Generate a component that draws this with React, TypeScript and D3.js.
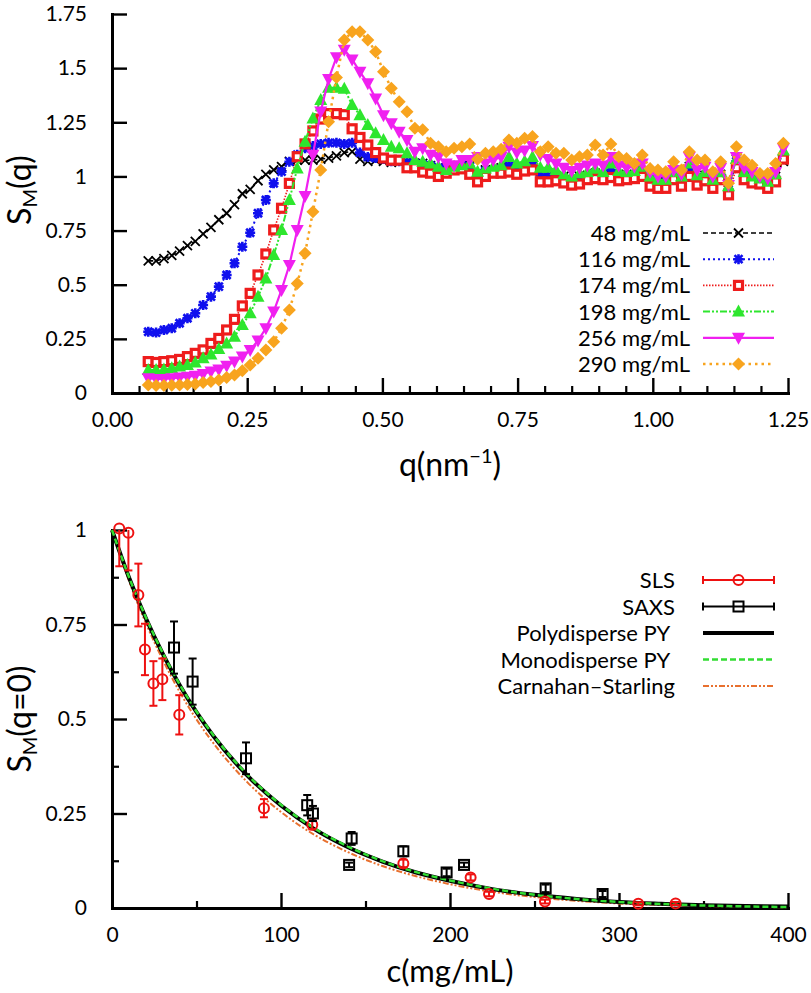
import * as d3 from 'd3';
import React, { useEffect, useRef } from 'react';

const FONT = "Lato, 'Open Sans', 'DejaVu Sans', sans-serif";

// ---- top panel: S_M(q) against q ----
const qGrid = [
  0.067, 0.0815, 0.096, 0.1105, 0.125, 0.1395, 0.154, 0.1685, 0.183, 0.1975,
  0.212, 0.2265, 0.241, 0.2555, 0.27, 0.2845, 0.299, 0.3135, 0.328, 0.3425,
  0.357, 0.3715, 0.386, 0.4005, 0.415, 0.4295, 0.444, 0.4585, 0.473, 0.4875,
  0.502, 0.5165, 0.531, 0.5455, 0.56, 0.5745, 0.589, 0.6035, 0.618, 0.6325,
  0.647, 0.6615, 0.676, 0.6905, 0.705, 0.7195, 0.734, 0.7485, 0.763, 0.7775,
  0.792, 0.8065, 0.821, 0.8355, 0.85, 0.8645, 0.879, 0.8935, 0.908, 0.9225,
  0.937, 0.9515, 0.966, 0.9805, 0.995, 1.0095, 1.024, 1.0385, 1.053, 1.0675,
  1.082, 1.0965, 1.111, 1.1255, 1.14, 1.1545, 1.169, 1.1835, 1.198, 1.2125,
  1.227, 1.2415,
];

const sm48 = [
  0.61, 0.61, 0.62, 0.635, 0.655, 0.68, 0.7, 0.735, 0.765, 0.8,
  0.83, 0.87, 0.92, 0.94, 0.98, 1.01, 1.03, 1.045, 1.07, 1.075,
  1.075, 1.075, 1.08, 1.085, 1.095, 1.11, 1.115, 1.08, 1.07, 1.075,
  1.07, 1.065, 1.07, 1.07, 1.06, 1.06, 1.05, 1.04, 1.04, 1.045,
  1.05, 1.05, 1.015, 1.03, 1.02, 1.04, 1.05, 1.035, 1.045, 1.055,
  1.01, 1.005, 1.005, 1.0, 0.985, 1.0, 1.005, 1.015, 1.0, 1.035,
  1.01, 1.0, 1.01, 1.025, 0.99, 0.975, 0.98, 1.03, 0.99, 1.045,
  0.995, 1.005, 0.975, 1.01, 0.95, 1.08, 1.03, 0.99, 0.98, 0.97,
  1.0, 1.07,
];
const sm116 = [
  0.283, 0.279, 0.291, 0.299, 0.322, 0.345, 0.368, 0.406, 0.445, 0.491,
  0.545, 0.599, 0.675, 0.74, 0.83, 0.891, 0.968, 1.022, 1.068, 1.1,
  1.13, 1.14, 1.15, 1.155, 1.155, 1.15, 1.155, 1.11, 1.09, 1.085,
  1.08, 1.07, 1.07, 1.065, 1.06, 1.055, 1.05, 1.04, 1.035, 1.04,
  1.05, 1.045, 1.01, 1.025, 1.02, 1.035, 1.05, 1.03, 1.04, 1.05,
  1.005, 1.0, 0.995, 0.99, 0.98, 0.995, 1.0, 1.01, 1.0, 1.03,
  1.005, 1.0, 1.005, 1.02, 0.985, 0.97, 0.97, 1.0, 0.98, 1.04,
  0.99, 1.0, 0.97, 1.0, 0.94, 1.07, 1.02, 0.985, 0.975, 0.96,
  0.99, 1.09,
];
const sm174 = [
  0.145, 0.141, 0.145, 0.149, 0.155, 0.168, 0.183, 0.199, 0.229, 0.252,
  0.291, 0.34, 0.402, 0.46, 0.545, 0.642, 0.753, 0.853, 0.968, 1.091,
  1.15, 1.21, 1.265, 1.29, 1.29, 1.285, 1.22, 1.18, 1.145, 1.11,
  1.085, 1.075, 1.075, 1.04, 1.04, 1.02, 1.015, 1.0, 1.015, 1.03,
  1.035, 1.01, 0.975, 1.0, 1.015, 1.015, 1.02, 1.01, 1.025, 1.03,
  0.975, 0.975, 0.98, 0.97, 0.96, 0.965, 0.985, 0.99, 0.985, 0.995,
  0.98, 0.985, 0.99, 1.0, 0.955, 0.945, 0.945, 0.985, 0.955, 1.0,
  0.96, 0.98, 0.945, 0.985, 0.915, 1.04, 0.985, 0.97, 0.965, 0.945,
  0.975, 1.08,
];
const sm198 = [
  0.106, 0.106, 0.109, 0.114, 0.122, 0.129, 0.141, 0.16, 0.178, 0.203,
  0.229, 0.26, 0.314, 0.368, 0.445, 0.529, 0.637, 0.753, 0.891, 1.037,
  1.16, 1.268, 1.353, 1.41, 1.41, 1.405, 1.33, 1.283, 1.237, 1.199,
  1.168, 1.137, 1.13, 1.107, 1.076, 1.068, 1.06, 1.045, 1.03, 1.045,
  1.052, 1.06, 1.022, 1.037, 1.045, 1.052, 1.09, 1.06, 1.07, 1.09,
  1.04, 1.04, 1.03, 1.01, 1.0, 1.015, 1.02, 1.035, 1.02, 1.06,
  1.025, 1.02, 1.025, 1.045, 1.0, 0.985, 0.985, 1.02, 1.0, 1.06,
  1.005, 1.02, 0.985, 1.02, 0.955, 1.08, 1.02, 1.0, 0.99, 0.975,
  1.01, 1.12,
];
const sm256 = [
  0.068, 0.065, 0.065, 0.068, 0.071, 0.075, 0.08, 0.088, 0.099, 0.109,
  0.126, 0.145, 0.168, 0.199, 0.242, 0.299, 0.376, 0.476, 0.591, 0.753,
  0.91, 1.1, 1.3, 1.45, 1.55, 1.585, 1.54, 1.483, 1.43, 1.36,
  1.283, 1.245, 1.206, 1.168, 1.114, 1.13, 1.1, 1.09, 1.06, 1.052,
  1.076, 1.076, 1.09, 1.06, 1.076, 1.09, 1.137, 1.11, 1.12, 1.14,
  1.1, 1.08, 1.06, 1.04, 1.025, 1.04, 1.05, 1.06, 1.05, 1.09,
  1.05, 1.04, 1.045, 1.06, 1.02, 1.0, 1.0, 1.03, 1.01, 1.09,
  1.03, 1.045, 1.0, 1.04, 0.96, 1.09, 1.04, 1.02, 1.0, 0.99,
  1.02, 1.13,
];
const sm290 = [
  0.037, 0.035, 0.035, 0.036, 0.037, 0.039, 0.042, 0.048, 0.053, 0.06,
  0.071, 0.083, 0.103, 0.129, 0.16, 0.199, 0.237, 0.299, 0.383, 0.506,
  0.645, 0.837, 1.03, 1.253, 1.457, 1.63, 1.668, 1.668, 1.63, 1.576,
  1.483, 1.407, 1.345, 1.299, 1.222, 1.215, 1.153, 1.137, 1.114, 1.13,
  1.137, 1.15, 1.079, 1.107, 1.114, 1.125, 1.168, 1.153, 1.176, 1.184,
  1.114, 1.137, 1.107, 1.107, 1.076, 1.091, 1.099, 1.145, 1.099, 1.15,
  1.091, 1.083, 1.06, 1.099, 1.037, 1.03, 1.022, 1.068, 1.03, 1.114,
  1.076, 1.076, 1.022, 1.068, 0.968, 1.137, 1.076, 1.052, 1.014, 1.014,
  1.06, 1.153,
];

const concLabels = ['48 mg/mL', '116 mg/mL', '174 mg/mL', '198 mg/mL', '256 mg/mL', '290 mg/mL'];
const concColors = ['#000000', '#1010ee', '#ee1c1c', '#2ee62e', '#f020f0', '#f8a41e'];
const concMarkers = ['times', 'star', 'square', 'triUp', 'triDown', 'diamond'];
const concDash = ['5,3', '2,3', '1.5,1.5', '7,2,2,2,2,2', null, '2.5,4'];
const concWidth = [1.6, 2, 1.6, 2, 2.2, 2.5];

const qTicks = [0, 0.25, 0.5, 0.75, 1, 1.25];
const qMinorTicks = [0.05, 0.1, 0.15, 0.2, 0.3, 0.35, 0.4, 0.45, 0.55, 0.6, 0.65, 0.7, 0.8, 0.85, 0.9, 0.95, 1.05, 1.1, 1.15, 1.2];
const smTicks = [0, 0.25, 0.5, 0.75, 1, 1.25, 1.5, 1.75];
const smTickLabels = ['0', '0.25', '0.5', '0.75', '1', '1.25', '1.5', '1.75'];

// ---- bottom panel: S_M(q=0) against concentration ----
const slsConc = [4.3, 9.7, 15.6, 19.5, 24.5, 29.8, 39.8, 89.9, 118.5, 172.4, 212.2, 223.1, 256.2, 311.4, 333.5];
const slsS = [1.004, 0.993, 0.828, 0.684, 0.594, 0.605, 0.511, 0.264, 0.22, 0.118, 0.081, 0.037, 0.017, 0.011, 0.012];
const slsErr = [0.1, 0.1, 0.083, 0.068, 0.059, 0.055, 0.052, 0.024, 0.012, 0.01, 0.008, 0.006, 0.005, 0.004, 0.004];

const saxsConc = [36.7, 47.7, 79.3, 115.5, 118.9, 140.3, 141.8, 172.4, 198, 208.3, 256.6, 290.3];
const saxsS = [0.689, 0.599, 0.396, 0.272, 0.25, 0.114, 0.184, 0.15, 0.094, 0.114, 0.052, 0.037];
const saxsErr = [0.069, 0.061, 0.042, 0.027, 0.02, 0.006, 0.017, 0.013, 0.01, 0.006, 0.01, 0.008];

const fitConc = [0, 10, 20, 30, 40, 50, 60, 80, 100, 120, 140, 160, 180, 200, 225, 250, 275, 300, 325, 350, 375, 400];
const polyPY = [1, 0.875, 0.767, 0.673, 0.59, 0.518, 0.455, 0.351, 0.271, 0.208, 0.16, 0.123, 0.094, 0.072, 0.05, 0.035, 0.024, 0.016, 0.011, 0.007, 0.005, 0.004];
const monoPY = [1, 0.876, 0.769, 0.675, 0.592, 0.52, 0.457, 0.353, 0.273, 0.21, 0.162, 0.124, 0.095, 0.073, 0.051, 0.035, 0.024, 0.016, 0.0105, 0.0066, 0.0041, 0.0025];
const carnStar = [1, 0.866, 0.754, 0.657, 0.572, 0.499, 0.436, 0.333, 0.254, 0.193, 0.147, 0.111, 0.084, 0.063, 0.043, 0.029, 0.019, 0.012, 0.008, 0.005, 0.003, 0.002];

const cTicks = [0, 100, 200, 300, 400];
const cMinorTicks = [50, 150, 250, 350];
const s0Ticks = [0, 0.25, 0.5, 0.75, 1];
const s0TickLabels = ['0', '0.25', '0.5', '0.75', '1'];
const s0MinorTicks = [0.125, 0.375, 0.625, 0.875];

const legendBottom = ['SLS', 'SAXS', 'Polydisperse PY\u00a0', 'Monodisperse PY\u00a0', 'Carnahan\u2013Starling'];

function addMarker(g: any, kind: string, x: number, y: number, color: string) {
  const m = g.append('g').attr('transform', `translate(${x},${y})`);
  if (kind === 'times') {
    m.append('path').attr('d', 'M-4.5,-4.5L4.5,4.5M-4.5,4.5L4.5,-4.5')
      .attr('stroke', color).attr('stroke-width', 1.8).attr('fill', 'none');
  } else if (kind === 'star') {
    m.append('path').attr('d', 'M-4,-4L4,4M-4,4L4,-4M0,-5L0,5M-5,0L5,0')
      .attr('stroke', color).attr('stroke-width', 2.6).attr('fill', 'none');
  } else if (kind === 'square') {
    m.append('rect').attr('x', -4).attr('y', -4).attr('width', 8).attr('height', 8)
      .attr('fill', '#fff').attr('stroke', color).attr('stroke-width', 3.2);
  } else if (kind === 'triUp') {
    m.append('path').attr('d', 'M0,-7L6.5,5L-6.5,5Z').attr('fill', color);
  } else if (kind === 'triDown') {
    m.append('path').attr('d', 'M0,7L6.5,-5L-6.5,-5Z').attr('fill', color);
  } else if (kind === 'diamond') {
    m.append('path').attr('d', 'M0,-6.5L6.5,0L0,6.5L-6.5,0Z').attr('fill', color);
  } else if (kind === 'circle') {
    m.append('circle').attr('r', 5).attr('fill', 'none').attr('stroke', color).attr('stroke-width', 2);
  } else if (kind === 'openSquare') {
    m.append('rect').attr('x', -5).attr('y', -5).attr('width', 10).attr('height', 10)
      .attr('fill', 'none').attr('stroke', color).attr('stroke-width', 2);
  }
}

function drawXAxis(svg: any, x: any, yPos: number, major: number[], minor: number[], fmt: (d: any, i: number) => string) {
  const gMinor = svg.append('g').attr('transform', `translate(0,${yPos})`)
    .call(d3.axisBottom(x).tickValues(minor).tickSize(-7).tickSizeOuter(0).tickFormat(() => ''));
  gMinor.select('.domain').remove();
  gMinor.selectAll('line').attr('stroke-width', 2.2);
  const gMajor = svg.append('g').attr('transform', `translate(0,${yPos})`)
    .call(d3.axisBottom(x).tickValues(major).tickSize(-15).tickSizeOuter(0).tickPadding(19).tickFormat(fmt));
  gMajor.select('.domain').attr('stroke-width', 3).attr('stroke-linecap', 'square');
  gMajor.selectAll('line').attr('stroke-width', 2.4);
  gMajor.attr('font-family', FONT).attr('font-size', 21);
}

function drawYAxis(svg: any, y: any, xPos: number, major: number[], minor: number[], fmt: (d: any, i: number) => string) {
  if (minor.length) {
    const gMinor = svg.append('g').attr('transform', `translate(${xPos},0)`)
      .call(d3.axisLeft(y).tickValues(minor).tickSize(-7).tickSizeOuter(0).tickFormat(() => ''));
    gMinor.select('.domain').remove();
    gMinor.selectAll('line').attr('stroke-width', 2.2);
  }
  const gMajor = svg.append('g').attr('transform', `translate(${xPos},0)`)
    .call(d3.axisLeft(y).tickValues(major).tickSize(-15).tickSizeOuter(0).tickPadding(25).tickFormat(fmt));
  gMajor.select('.domain').attr('stroke-width', 3).attr('stroke-linecap', 'square');
  gMajor.selectAll('line').attr('stroke-width', 2.4);
  gMajor.attr('font-family', FONT).attr('font-size', 21);
}

export default function App() {
  const svgRef = useRef<SVGSVGElement | null>(null);

  useEffect(() => {
    const svg = d3.select(svgRef.current);
    svg.selectAll('*').remove();

    const topX = d3.scaleLinear().domain([0, 1.25]).range([112, 788]);
    const topY = d3.scaleLinear().domain([0, 1.75]).range([393, 14]);
    const botX = d3.scaleLinear().domain([0, 400]).range([112, 788]);
    const botY = d3.scaleLinear().domain([0, 1]).range([908, 530]);

    // ---------- top panel ----------
    drawXAxis(svg, topX, 393, qTicks, qMinorTicks, (d) => d3.format('.2f')(d));
    drawYAxis(svg, topY, 112, smTicks, [], (d, i) => smTickLabels[i]);

    const series = [sm48, sm116, sm174, sm198, sm256, sm290];
    const line = d3.line();
    series.forEach((vals, si) => {
      const pts: [number, number][] = qGrid.map((q, i) => [topX(q), topY(vals[i])]);
      svg.append('path')
        .attr('d', line(pts))
        .attr('fill', 'none')
        .attr('stroke', concColors[si])
        .attr('stroke-width', concWidth[si])
        .attr('stroke-dasharray', concDash[si]);
      const mg = svg.append('g');
      pts.forEach(([px, py]) => addMarker(mg, concMarkers[si], px, py, concColors[si]));
    });

    // legend (top)
    concLabels.forEach((lab, i) => {
      const cy = 233 + i * 26.2;
      svg.append('text')
        .attr('x', 690).attr('y', cy + 8)
        .attr('text-anchor', 'end')
        .attr('font-family', FONT).attr('font-size', 22)
        .text(lab);
      svg.append('line')
        .attr('x1', 703).attr('x2', 774).attr('y1', cy).attr('y2', cy)
        .attr('stroke', concColors[i]).attr('stroke-width', concWidth[i])
        .attr('stroke-dasharray', concDash[i]);
      addMarker(svg, concMarkers[i], 738.5, cy, concColors[i]);
    });

    // axis titles (top)
    const tx = svg.append('text')
      .attr('x', 450).attr('y', 476)
      .attr('text-anchor', 'middle')
      .attr('font-family', FONT).attr('font-size', 32);
    tx.append('tspan').text('q(nm');
    tx.append('tspan').attr('font-size', 20).attr('dy', -13).text('\u22121');
    tx.append('tspan').attr('dy', 13).text(')');

    const ty = svg.append('text')
      .attr('transform', 'translate(31,190) rotate(-90)')
      .attr('text-anchor', 'middle')
      .attr('font-family', FONT).attr('font-size', 32);
    ty.append('tspan').text('S');
    ty.append('tspan').attr('font-size', 20).attr('dy', 6).text('M');
    ty.append('tspan').attr('dy', -6).text('(q)');

    // ---------- bottom panel ----------
    drawXAxis(svg, botX, 908, cTicks, cMinorTicks, (d) => String(d));
    drawYAxis(svg, botY, 112, s0Ticks, s0MinorTicks, (d, i) => s0TickLabels[i]);

    const fitLine = d3.line<number>()
      .x((d, i) => botX(fitConc[i]))
      .y((d) => botY(d))
      .curve(d3.curveMonotoneX);

    svg.append('path').attr('d', fitLine(carnStar)).attr('fill', 'none')
      .attr('stroke', '#e8702e').attr('stroke-width', 2).attr('stroke-dasharray', '6,2,2,2,2,2');
    svg.append('path').attr('d', fitLine(polyPY)).attr('fill', 'none')
      .attr('stroke', '#000').attr('stroke-width', 4);
    svg.append('path').attr('d', fitLine(monoPY)).attr('fill', 'none')
      .attr('stroke', '#33dd33').attr('stroke-width', 2.5).attr('stroke-dasharray', '6,3');

    const drawErr = (cs: number[], ss: number[], es: number[], color: string, kind: string) => {
      const g = svg.append('g');
      cs.forEach((c, i) => {
        const px = botX(c);
        const hi = Math.min(1, ss[i] + es[i]);
        const lo = ss[i] - es[i];
        g.append('line').attr('x1', px).attr('x2', px)
          .attr('y1', botY(lo)).attr('y2', botY(hi))
          .attr('stroke', color).attr('stroke-width', 2);
        g.append('line').attr('x1', px - 4).attr('x2', px + 4)
          .attr('y1', botY(lo)).attr('y2', botY(lo))
          .attr('stroke', color).attr('stroke-width', 2);
        if (hi < 1) {
          g.append('line').attr('x1', px - 4).attr('x2', px + 4)
            .attr('y1', botY(hi)).attr('y2', botY(hi))
            .attr('stroke', color).attr('stroke-width', 2);
        }
        addMarker(g, kind, px, botY(ss[i]), color);
      });
    };
    drawErr(slsConc, slsS, slsErr, '#ee1111', 'circle');
    drawErr(saxsConc, saxsS, saxsErr, '#000', 'openSquare');

    // legend (bottom)
    legendBottom.forEach((lab, i) => {
      const cy = 580 + i * 26.5;
      svg.append('text')
        .attr('x', 675).attr('y', cy + 8)
        .attr('text-anchor', 'end')
        .attr('font-family', FONT).attr('font-size', 22)
        .text(lab);
      if (i < 2) {
        const col = i === 0 ? '#ee1111' : '#000';
        svg.append('line').attr('x1', 703).attr('x2', 774).attr('y1', cy).attr('y2', cy)
          .attr('stroke', col).attr('stroke-width', 2);
        [703, 774].forEach((ex) => {
          svg.append('line').attr('x1', ex).attr('x2', ex).attr('y1', cy - 4).attr('y2', cy + 4)
            .attr('stroke', col).attr('stroke-width', 2);
        });
        addMarker(svg, i === 0 ? 'circle' : 'openSquare', 738.5, cy, col);
      } else if (i === 2) {
        svg.append('line').attr('x1', 703).attr('x2', 774).attr('y1', cy).attr('y2', cy)
          .attr('stroke', '#000').attr('stroke-width', 4);
      } else if (i === 3) {
        svg.append('line').attr('x1', 703).attr('x2', 774).attr('y1', cy).attr('y2', cy)
          .attr('stroke', '#33dd33').attr('stroke-width', 2.5).attr('stroke-dasharray', '6,3');
      } else {
        svg.append('line').attr('x1', 703).attr('x2', 774).attr('y1', cy).attr('y2', cy)
          .attr('stroke', '#e8702e').attr('stroke-width', 2).attr('stroke-dasharray', '6,2,2,2,2,2');
      }
    });

    // axis titles (bottom)
    svg.append('text')
      .attr('x', 450).attr('y', 982)
      .attr('text-anchor', 'middle')
      .attr('font-family', FONT).attr('font-size', 31)
      .text('c(mg/mL)');

    const by = svg.append('text')
      .attr('transform', 'translate(31,719) rotate(-90)')
      .attr('text-anchor', 'middle')
      .attr('font-family', FONT).attr('font-size', 32);
    by.append('tspan').text('S');
    by.append('tspan').attr('font-size', 20).attr('dy', 6).text('M');
    by.append('tspan').attr('dy', -6).text('(q=0)');
  }, []);

  return (
    <svg
      ref={svgRef}
      width={811}
      height={993}
      style={{ position: 'absolute', left: 0, top: 0, background: '#fff' }}
    />
  );
}
